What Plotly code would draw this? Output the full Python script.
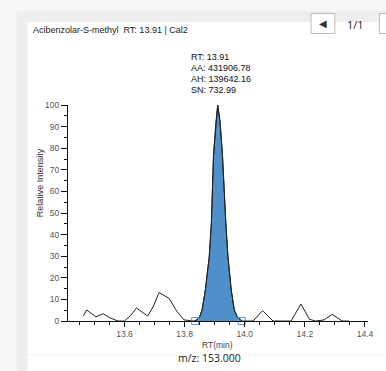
import plotly.graph_objects as go
import numpy as np

# ---- data ----
rt_min = [13.463, 13.474, 13.505, 13.529, 13.551, 13.578, 13.600, 13.620, 13.640, 13.660, 13.677,
          13.695, 13.715, 13.748, 13.762, 13.775, 13.798, 13.830, 13.841, 13.850, 13.858, 13.869,
          13.882, 13.889, 13.896, 13.904, 13.910, 13.918, 13.926, 13.937, 13.944, 13.955, 13.965,
          13.975, 13.984, 13.990, 14.028, 14.059, 14.094, 14.154, 14.187, 14.215, 14.236, 14.264,
          14.291, 14.324, 14.346]
rel_intensity = [2.3, 5.1, 1.9, 3.4, 1.5, 0.0, 0.0, 2.5, 6.0, 4.0, 2.3,
                 6.5, 13.2, 10.5, 7.0, 4.3, 0.5, 0.0, 0.5, 2.0, 5.1, 14.4,
                 29.9, 45.4, 76.4, 92.0, 100.0, 92.0, 76.4, 45.4, 29.9, 14.4, 5.1,
                 2.0, 0.5, 0.0, 0.0, 4.8, 0.0, 0.0, 7.9, 0.8, 0.0, 0.5,
                 3.1, 0.0, 0.0]
peak_start = 13.835
peak_end = 13.990
peak_info = ["RT: 13.91", "AA: 431906.78", "AH: 139642.16", "SN: 732.99"]
x_ticks = [13.6, 13.8, 14.0, 14.2, 14.4]
y_ticks = [0, 10, 20, 30, 40, 50, 60, 70, 80, 90, 100]
title_text = "Acibenzolar-S-methyl  RT: 13.91 | Cal2"
mz_text = "m/z: 153.000"

W, H = 386, 371
L, R, T, B = 68, 15, 105, 50


def px(x):
    return (x - L) / (W - L - R)


def py(y):
    return (H - B - y) / (H - T - B)


t = np.array(rt_min)
inten = np.array(rel_intensity)
mask = (t >= peak_start) & (t <= peak_end)
pk_t = np.concatenate([[peak_start], t[mask], [peak_end]])
pk_i = np.concatenate([[0.0], inten[mask], [0.0]])

fig = go.Figure()
fig.add_trace(go.Scatter(x=pk_t, y=pk_i, mode="lines", fill="tozeroy",
                         fillcolor="#4f8fca", line=dict(color="#1a1a1a", width=1),
                         hoverinfo="skip", showlegend=False))
fig.add_trace(go.Scatter(x=rt_min, y=rel_intensity, mode="lines",
                         line=dict(color="#222222", width=1), showlegend=False))
fig.add_trace(go.Scatter(x=[peak_start, peak_end], y=[0, 0], mode="markers",
                         marker=dict(symbol="square-open", size=7,
                                     color="#5b9bd5", line=dict(width=1, color="#5b9bd5")),
                         showlegend=False, cliponaxis=False))

font_main = "Liberation Sans, Arial, sans-serif"

shapes = [
    # gray panel
    dict(type="rect", xref="paper", yref="paper", x0=px(16), x1=px(W + 5),
         y0=py(H + 5), y1=py(11), fillcolor="#eeeeee", line=dict(width=0), layer="below"),
    # white panel
    dict(type="rect", xref="paper", yref="paper", x0=px(27), x1=px(W + 5),
         y0=py(H + 5), y1=py(22), fillcolor="#ffffff", line=dict(width=0), layer="below"),
    # faint separator
    dict(type="line", xref="paper", yref="paper", x0=px(27), x1=px(W + 5),
         y0=py(355), y1=py(355), line=dict(color="#f0f2f5", width=1), layer="below"),
    # buttons
    dict(type="rect", xref="paper", yref="paper", x0=px(313.5), x1=px(337.5),
         y0=py(33.5), y1=py(13.5), fillcolor="#ffffff",
         line=dict(color="#bdbdbd", width=1), layer="below"),
    dict(type="rect", xref="paper", yref="paper", x0=px(382.5), x1=px(400),
         y0=py(33.5), y1=py(13.5), fillcolor="#ffffff",
         line=dict(color="#bdbdbd", width=1), layer="below"),
]

annotations = [
    dict(text=title_text, x=px(31), y=py(30), xref="paper", yref="paper",
         xanchor="left", yanchor="middle", showarrow=False,
         font=dict(family=font_main, size=9, color="#222222")),
    dict(text="Relative Intensity", x=px(40), y=py(183), xref="paper", yref="paper",
         xanchor="center", yanchor="middle", showarrow=False, textangle=-90,
         font=dict(family=font_main, size=9, color="#333333")),
    dict(text="RT(min)", x=px(219), y=py(345), xref="paper", yref="paper",
         xanchor="center", yanchor="middle", showarrow=False,
         font=dict(family=font_main, size=8.5, color="#444444")),
    dict(text=mz_text, x=px(211), y=py(358), xref="paper", yref="paper",
         xanchor="center", yanchor="middle", showarrow=False,
         font=dict(family="Open Sans, Noto Sans, sans-serif", size=10.5, color="#222222")),
    dict(text="\u25C0", x=px(325.5), y=py(23.5), xref="paper", yref="paper",
         xanchor="center", yanchor="middle", showarrow=False,
         font=dict(family="DejaVu Sans", size=10, color="#333333")),
    dict(text="1/1", x=px(358), y=py(24), xref="paper", yref="paper",
         xanchor="center", yanchor="middle", showarrow=False,
         font=dict(family="Open Sans, Noto Sans, sans-serif", size=11, color="#222222")),
]
for i, line in enumerate(peak_info):
    annotations.append(dict(text=line, x=px(190), y=py(57 + 11 * i), xref="paper", yref="paper",
                            xanchor="left", yanchor="middle", showarrow=False,
                            font=dict(family=font_main, size=9, color="#111111")))

fig.update_layout(
    width=W, height=H,
    margin=dict(l=L, r=R, t=T, b=B, pad=0),
    paper_bgcolor="#f7f7f7",
    plot_bgcolor="#ffffff",
    shapes=shapes,
    annotations=annotations,
    showlegend=False,
)
fig.update_xaxes(range=[13.412, 14.41], showgrid=False, zeroline=False,
                 showline=True, linecolor="#111111", linewidth=1,
                 ticks="outside", ticklen=5, tickcolor="#111111", tickwidth=1,
                 tickvals=x_ticks, ticktext=[f"{v:.1f}" for v in x_ticks],
                 tickfont=dict(family=font_main, size=8.5, color="#555555"),
                 minor=dict(dtick=0.05, tick0=13.4, ticks="outside", ticklen=3,
                            tickcolor="#111111", showgrid=False))
fig.update_yaxes(range=[0, 100], showgrid=False, zeroline=False,
                 showline=True, linecolor="#111111", linewidth=1,
                 ticks="outside", ticklen=6, tickcolor="#111111", tickwidth=1,
                 tickvals=y_ticks, ticktext=[str(v) for v in y_ticks],
                 tickfont=dict(family=font_main, size=8.5, color="#555555"),
                 minor=dict(dtick=5, tick0=0, ticks="outside", ticklen=3,
                            tickcolor="#111111", showgrid=False))

fig.write_html("out.html", config={"displayModeBar": False},
               post_script="document.body.style.margin='0px';document.body.style.overflow='hidden';")
